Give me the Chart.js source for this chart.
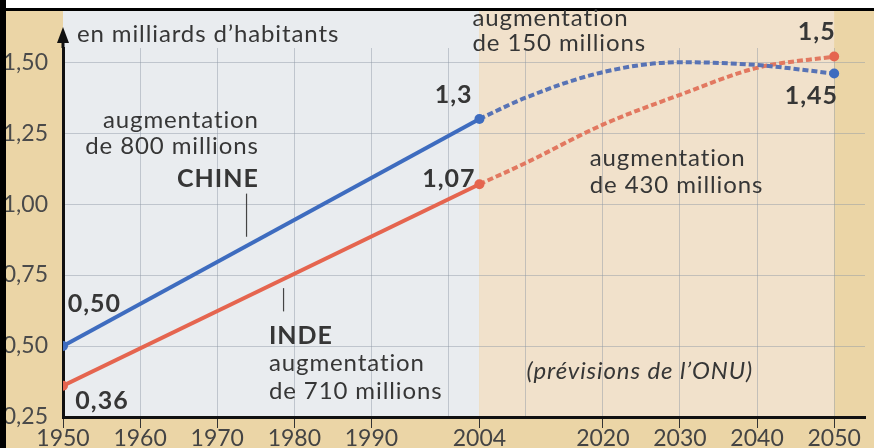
<!DOCTYPE html>
<html>
<head>
<meta charset="utf-8">
<script src="https://cdn.jsdelivr.net/npm/chart.js@4.4.1/dist/chart.umd.min.js"></script>
<style>
  html, body { margin: 0; padding: 0; background: #fff; }
  #wrap { width: 874px; height: 448px; }
</style>
</head>
<body>
<div id="wrap"><canvas id="popChart" width="874" height="448"></canvas></div>
<script>
// historical data (solid lines)
const histYears = [1950, 2004];
const chinaHist = [0.50, 1.30];
const indiaHist = [0.36, 1.07];

// UN projections (dashed lines)
const projYears = [2004, 2010, 2020, 2030, 2040, 2050];
const chinaProj = [1.30, 1.375, 1.465, 1.50, 1.49, 1.46];
const indiaProj = [1.07, 1.145, 1.28, 1.385, 1.48, 1.52];

// axis ticks
const gridYears = [1950, 1960, 1970, 1980, 1990, 2000, 2004, 2010, 2020, 2030, 2040, 2050];
const labelYears = [1950, 1960, 1970, 1980, 1990, 2004, 2020, 2030, 2040, 2050];
const yTicks = [0.25, 0.50, 0.75, 1.00, 1.25, 1.50];

const BLUE = '#3e6cbf';
const RED = '#e5654f';
const TXT = '#363636';
const FONT = 'Lato, "Open Sans", sans-serif';

const pts = (xs, ys) => xs.map((x, i) => ({ x: x, y: ys[i] }));

const fr = v => v.toFixed(2).replace('.', ',');

// background: tan page, light plot zone, peach projection zone, frame
const backdrop = {
    id: 'backdrop',
    beforeDraw(chart) {
        const { ctx, chartArea: a, scales: { x } } = chart;
        const x04 = x.getPixelForValue(2004);
        const x50 = x.getPixelForValue(2050);
        ctx.save();
        ctx.fillStyle = '#ebd5a6';
        ctx.fillRect(0, 0, chart.width, chart.height);
        ctx.fillStyle = '#e9ecef';
        ctx.fillRect(a.left, 10, x04 - a.left, a.bottom - 10);
        ctx.fillStyle = '#f1e1cb';
        ctx.fillRect(x04, 10, x50 - x04, a.bottom - 10);
        // frame
        ctx.fillStyle = '#fff';
        ctx.fillRect(0, 0, chart.width, 8);
        ctx.fillStyle = '#000';
        ctx.fillRect(0, 8, chart.width, 3);
        ctx.restore();
    },
    afterDraw(chart) {
        const { ctx, chartArea: a } = chart;
        ctx.save();
        // y axis arrow
        ctx.strokeStyle = '#111';
        ctx.lineWidth = 3;
        ctx.beginPath();
        ctx.moveTo(a.left, a.top);
        ctx.lineTo(a.left, 40);
        ctx.stroke();
        ctx.fillStyle = '#111';
        ctx.beginPath();
        ctx.moveTo(a.left, 27);
        ctx.lineTo(a.left - 6, 43);
        ctx.lineTo(a.left + 6, 43);
        ctx.closePath();
        ctx.fill();
        ctx.fillStyle = '#000';
        ctx.fillRect(0, 0, 6, chart.height);
        ctx.restore();
    }
};

// text annotations anchored on data coordinates
const notes = [
    { t: 'en milliards d\u2019habitants', x: 1951.8, y: 1.598, al: 'left' },
    { t: 'augmentation', x: 1975.4, y: 1.296, al: 'right' },
    { t: 'de 800 millions', x: 1975.4, y: 1.204, al: 'right' },
    { t: 'CHINE', x: 1975.4, y: 1.09, al: 'right', b: true },
    { t: 'INDE', x: 1976.7, y: 0.534, al: 'left', b: true },
    { t: 'augmentation', x: 1976.7, y: 0.438, al: 'left' },
    { t: 'de 710 millions', x: 1976.7, y: 0.339, al: 'left' },
    { t: 'augmentation', x: 2003.1, y: 1.655, al: 'left' },
    { t: 'de 150 millions', x: 2003.1, y: 1.566, al: 'left' },
    { t: 'augmentation', x: 2018.3, y: 1.161, al: 'left' },
    { t: 'de 430 millions', x: 2018.3, y: 1.066, al: 'left' },
    { t: '(pr\u00e9visions de l\u2019ONU)', x: 2010.1, y: 0.41, al: 'left', i: true },
    { t: '0,50', x: 1950.6, y: 0.647, al: 'left', b: true },
    { t: '0,36', x: 1951.6, y: 0.307, al: 'left', b: true },
    { t: '1,3', x: 2003.1, y: 1.385, al: 'right', b: true },
    { t: '1,07', x: 2003.5, y: 1.09, al: 'right', b: true },
    { t: '1,5', x: 2050.2, y: 1.605, al: 'right', b: true },
    { t: '1,45', x: 2050.5, y: 1.381, al: 'right', b: true }
];
const leaders = [
    { x: 1973.8, y0: 1.037, y1: 0.885 },
    { x: 1978.6, y0: 0.704, y1: 0.622 }
];

const annotate = {
    id: 'annotate',
    afterDatasetsDraw(chart) {
        const { ctx, scales: { x, y } } = chart;
        ctx.save();
        ctx.strokeStyle = '#444';
        ctx.lineWidth = 1.2;
        leaders.forEach(l => {
            const px = x.getPixelForValue(l.x);
            ctx.beginPath();
            ctx.moveTo(px, y.getPixelForValue(l.y0));
            ctx.lineTo(px, y.getPixelForValue(l.y1));
            ctx.stroke();
        });
        ctx.fillStyle = TXT;
        ctx.textBaseline = 'middle';
        notes.forEach(n => {
            ctx.font = (n.i ? 'italic ' : '') + (n.b ? 'bold ' : '') + (n.b ? '25px ' : '24px ') + FONT;
            ctx.letterSpacing = n.b ? '1px' : '0.9px';
            ctx.textAlign = n.al;
            ctx.fillText(n.t, x.getPixelForValue(n.x), y.getPixelForValue(n.y));
        });
        ctx.restore();
    }
};

new Chart(document.getElementById('popChart'), {
    type: 'line',
    data: {
        datasets: [
            {
                label: 'Chine',
                data: pts(histYears, chinaHist),
                borderColor: BLUE,
                backgroundColor: BLUE,
                borderWidth: 4,
                pointRadius: 5,
                pointBorderWidth: 0,
                tension: 0
            },
            {
                label: 'Chine (prévisions)',
                data: pts(projYears, chinaProj),
                borderColor: '#5873b5',
                backgroundColor: BLUE,
                borderWidth: 4,
                borderDash: [6, 3],
                pointRadius: ctx => ctx.dataIndex === projYears.length - 1 ? 5 : 0,
                pointBorderWidth: 0,
                cubicInterpolationMode: 'monotone'
            },
            {
                label: 'Inde',
                data: pts(histYears, indiaHist),
                borderColor: RED,
                backgroundColor: RED,
                borderWidth: 4,
                pointRadius: 5,
                pointBorderWidth: 0,
                tension: 0
            },
            {
                label: 'Inde (prévisions)',
                data: pts(projYears, indiaProj),
                borderColor: '#e27860',
                backgroundColor: RED,
                borderWidth: 4,
                borderDash: [6, 3],
                pointRadius: ctx => ctx.dataIndex === projYears.length - 1 ? 5 : 0,
                pointBorderWidth: 0,
                cubicInterpolationMode: 'monotone'
            }
        ]
    },
    options: {
        responsive: false,
        animation: false,
        layout: { padding: { top: 48, right: 9, left: 0, bottom: 0 } },
        scales: {
            x: {
                type: 'linear',
                min: 1950,
                max: 2054,
                afterBuildTicks: s => { s.ticks = gridYears.map(v => ({ value: v })); },
                afterFit: s => { s.height = 31; },
                border: { color: '#111', width: 3 },
                grid: {
                    color: c => (c.tick && (c.tick.value === 2004 || c.tick.value === 1950)) ? 'rgba(0,0,0,0)' : 'rgba(140,150,165,0.45)',
                    tickColor: c => (c.tick && labelYears.includes(c.tick.value)) ? '#333' : 'rgba(0,0,0,0)',
                    tickLength: 11,
                    lineWidth: 1
                },
                ticks: {
                    autoSkip: false,
                    maxRotation: 0,
                    padding: -3,
                    color: '#444',
                    font: { family: FONT, size: 23 },
                    callback: v => labelYears.includes(v) ? String(v) : ''
                }
            },
            y: {
                min: 0.25,
                max: 1.55,
                afterBuildTicks: s => { s.ticks = yTicks.map(v => ({ value: v })); },
                afterFit: s => { s.width = 63; },
                border: { color: '#111', width: 3 },
                grid: {
                    color: 'rgba(140,150,165,0.45)',
                    drawTicks: false,
                    lineWidth: 1
                },
                ticks: {
                    padding: 15,
                    color: '#4a4a4a',
                    font: { family: FONT, size: 23 },
                    callback: v => fr(v)
                }
            }
        },
        plugins: {
            legend: { display: false },
            tooltip: { enabled: false }
        }
    },
    plugins: [backdrop, annotate]
});
</script>
</body>
</html>
